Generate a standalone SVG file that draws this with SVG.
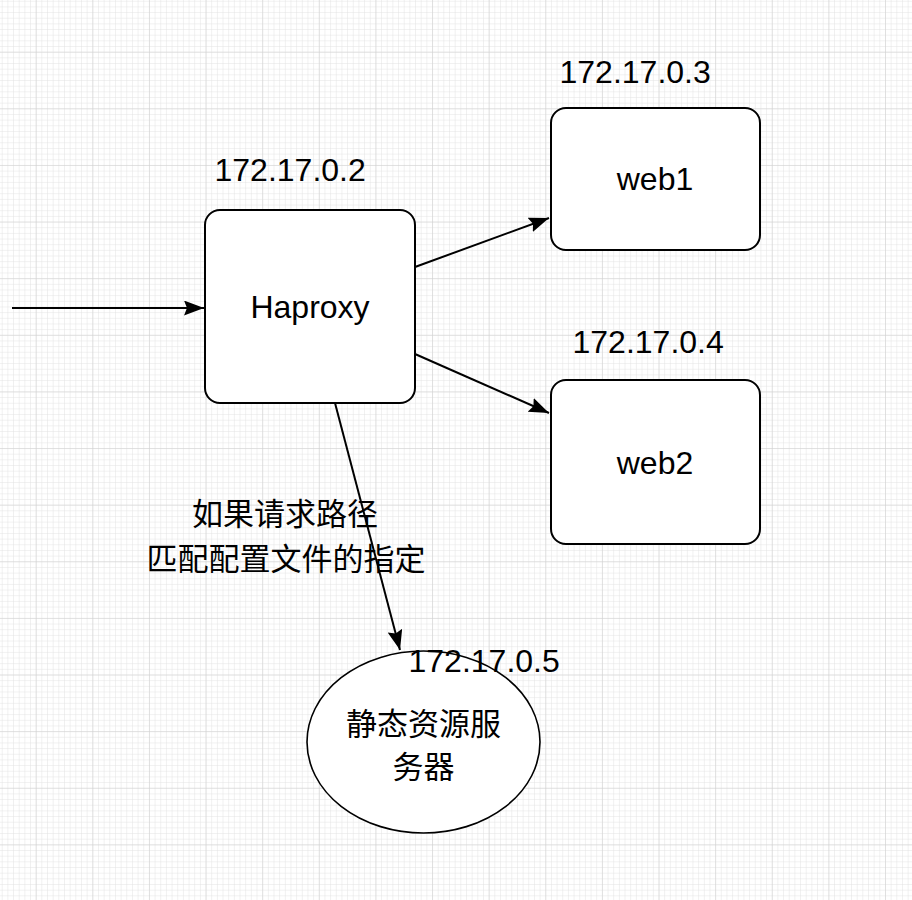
<svg xmlns="http://www.w3.org/2000/svg" width="912" height="900" viewBox="0 0 912 900">
  <defs>
    <pattern id="minor" patternUnits="userSpaceOnUse" x="35.7" y="51.7" width="5.662" height="5.662">
      <path d="M0,0 H5.662 M0,0 V5.662" fill="none" stroke="#e3e3e3" stroke-width="1"/>
    </pattern>
    <pattern id="major" patternUnits="userSpaceOnUse" x="35.7" y="51.7" width="56.62" height="56.62">
      <path d="M0,0 H56.62 M0,0 V56.62" fill="none" stroke="#cfcfcf" stroke-width="1"/>
    </pattern>
    <marker id="arr" markerUnits="userSpaceOnUse" markerWidth="22" markerHeight="16" refX="20" refY="7.5" orient="auto">
      <path d="M0,0 L20,7.5 L0,15 L3,7.5 Z" fill="#000"/>
    </marker>
    <style>
      .box { fill: #fff; stroke: #000; stroke-width: 2; }
      .lat { font-family: "Liberation Sans", Arial, sans-serif; font-size: 32px; fill: #000; }
      .cjk { font-family: "Liberation Sans", "Noto Sans CJK SC", sans-serif; font-size: 31px; fill: #000; text-anchor: middle; }
      .mid { text-anchor: middle; }
      .edge { stroke: #000; stroke-width: 2; fill: none; marker-end: url(#arr); }
    </style>
  </defs>
  <rect width="912" height="900" fill="#fff"/>
  <rect width="912" height="900" fill="url(#minor)"/>
  <rect width="912" height="900" fill="url(#major)"/>

  <g id="connectors">
    <line class="edge" x1="12" y1="308" x2="204" y2="308"/>
    <line class="edge" x1="415" y1="267" x2="549" y2="218"/>
    <line class="edge" x1="415" y1="354" x2="549" y2="413"/>
    <line class="edge" x1="335" y1="403" x2="400" y2="650"/>
  </g>

  <g id="haproxy">
    <rect class="box" x="205" y="210" width="210" height="193" rx="15" ry="15"/>
    <text class="lat mid" x="310" y="318">Haproxy</text>
  </g>
  <g id="haproxy-ip">
    <text class="lat" x="214.5" y="181">172.17.0.2</text>
  </g>

  <g id="web1">
    <rect class="box" x="551" y="108" width="209" height="142" rx="15" ry="15"/>
    <text class="lat mid" x="655" y="190">web1</text>
  </g>
  <g id="web1-ip">
    <text class="lat" x="559.5" y="83">172.17.0.3</text>
  </g>

  <g id="web2">
    <rect class="box" x="551" y="380" width="209" height="164" rx="15" ry="15"/>
    <text class="lat mid" x="655" y="474">web2</text>
  </g>
  <g id="web2-ip">
    <text class="lat" x="572.5" y="353">172.17.0.4</text>
  </g>

  <g id="edge-label">
    <text class="cjk" x="285" y="525">如果请求路径</text>
    <text class="cjk" x="286" y="570">匹配配置文件的指定</text>
  </g>

  <g id="static-server">
    <ellipse cx="423.5" cy="742" rx="116.5" ry="91" fill="#fff" stroke="#000" stroke-width="1.6"/>
    <text class="cjk" x="423.5" y="735">静态资源服</text>
    <text class="cjk" x="423.5" y="778">务器</text>
  </g>
  <g id="static-ip">
    <text class="lat" x="408.5" y="672">172.17.0.5</text>
  </g>
</svg>
